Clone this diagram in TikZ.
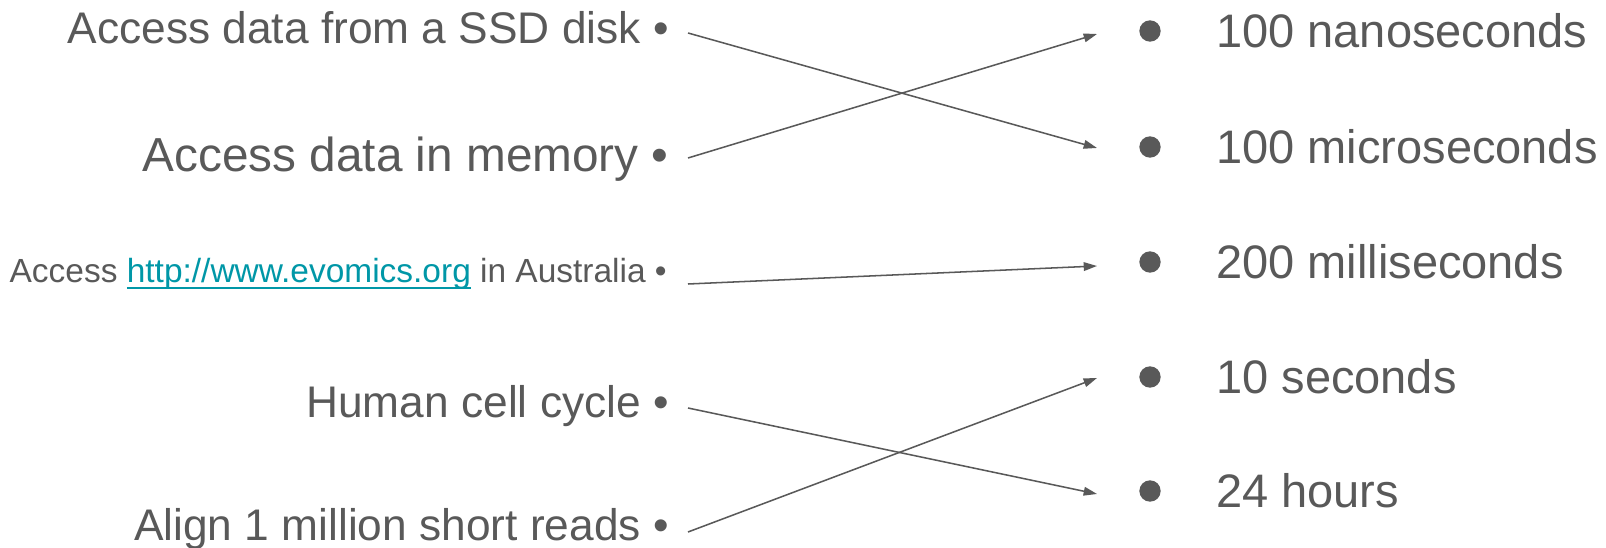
\documentclass[tikz,border=0pt]{standalone}
\usepackage{fontspec}
\setmainfont{Liberation Sans}
\usetikzlibrary{arrows.meta}
\definecolor{txt}{HTML}{595959}
\definecolor{linkc}{HTML}{0097A7}
\newcommand{\myul}[1]{\setbox0\hbox{#1}\rlap{\rule[-4.5pt]{\wd0}{1.6pt}}\box0}
\begin{document}
\begin{tikzpicture}[x=0.75pt,y=-0.75pt,
  lefttext/.style={anchor=base east, inner sep=0pt, text=txt, font=\fontsize{33.2}{40}\selectfont},
  bigleft/.style={lefttext, font=\fontsize{35.8}{42}\selectfont},
  smallleft/.style={lefttext, font=\fontsize{25.1}{30}\selectfont},
  righttext/.style={anchor=base west, inner sep=0pt, text=txt, font=\fontsize{35.25}{42}\selectfont},
  rdot/.style={circle, fill=txt, minimum size=16pt, inner sep=0pt},
  conn/.style={draw=txt, line width=1.15pt, -{Triangle[length=10pt,width=6.5pt]}}
]
\useasboundingbox (0,0) rectangle (1606,548);
% left items
\node[lefttext]  (a1) at (669,44)  {Access data from a SSD disk •};
\node[bigleft]   (a2) at (669,172) {Access data in memory •};
\node[smallleft] (a3) at (667,283) {Access {\color{linkc}\myul{http://www.evomics.org}} in Australia •};
\node[lefttext]  (a4) at (669,418) {Human cell cycle •};
\node[lefttext]  (a5) at (669,541) {Align 1 million short reads •};
% right bullets and texts
\node[rdot] (d1) at (1150,31)  {};
\node[rdot] (d2) at (1150,147) {};
\node[rdot] (d3) at (1150,262) {};
\node[rdot] (d4) at (1150,377) {};
\node[rdot] (d5) at (1150,491) {};
\node[righttext] (b1) at (1216,48)  {100 nanoseconds};
\node[righttext] (b2) at (1216,164) {100 microseconds};
\node[righttext] (b3) at (1216,279) {200 milliseconds};
\node[righttext] (b4) at (1216,394) {10 seconds};
\node[righttext] (b5) at (1216,508) {24 hours};
% connector end points
\coordinate (s1) at (688,33);
\coordinate (s2) at (688,158);
\coordinate (s3) at (688,284);
\coordinate (s4) at (688,408);
\coordinate (s5) at (688,532);
\coordinate (e1) at (1097,34);
\coordinate (e2) at (1097,148);
\coordinate (e3) at (1097,266);
\coordinate (e4) at (1097,378);
\coordinate (e5) at (1097,494);
\draw[conn] (s1) -- (e2);
\draw[conn] (s2) -- (e1);
\draw[conn] (s3) -- (e3);
\draw[conn] (s4) -- (e5);
\draw[conn] (s5) -- (e4);
\end{tikzpicture}
\end{document}
